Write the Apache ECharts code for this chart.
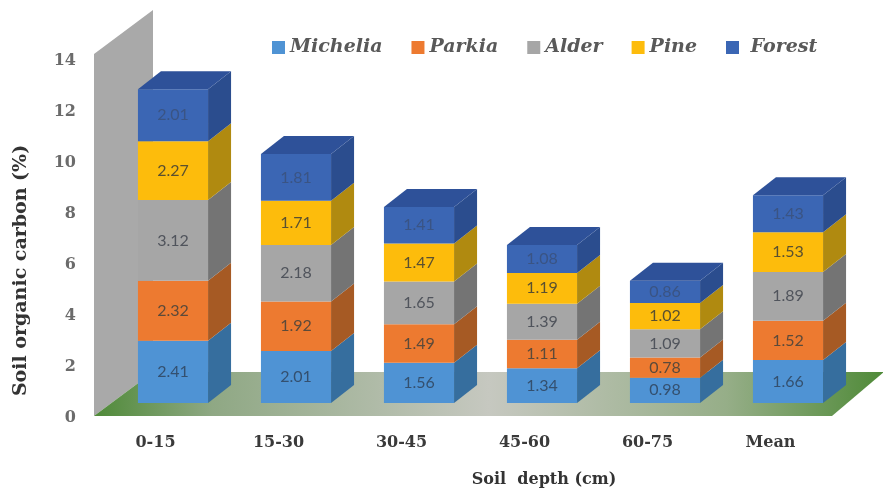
<!DOCTYPE html>
<html>
<head>
<meta charset="utf-8">
<style>
html, body { margin: 0; background: #fff; }
#main { width: 883px; height: 489px; filter: blur(0.5px); }
</style>
<script src="https://cdn.jsdelivr.net/npm/echarts@6/dist/echarts.min.js"></script>
</head>
<body>
<div id="main"></div>
<script>
var depths = ['0-15', '15-30', '30-45', '45-60', '60-75', 'Mean'];
var michelia = [2.41, 2.01, 1.56, 1.34, 0.98, 1.66];
var parkia = [2.32, 1.92, 1.49, 1.11, 0.78, 1.52];
var alder = [3.12, 2.18, 1.65, 1.39, 1.09, 1.89];
var pine = [2.27, 1.71, 1.47, 1.19, 1.02, 1.53];
var forest = [2.01, 1.81, 1.41, 1.08, 0.86, 1.43];
var names = ['Michelia', 'Parkia', 'Alder', 'Pine', 'Forest'];
var values = [michelia, parkia, alder, pine, forest];

var frontColors = ['#4f93d4', '#ed7a30', '#a6a6a6', '#fdbc0c', '#3b66b4'];
var sideColors = ['#366e9e', '#a65a24', '#747474', '#b08a10', '#2b4d8e'];
var topColor = '#2e5199';
var textColors = ['#34506f', '#5c4a3a', '#50545c', '#5a5030', '#3a5484'];

var serif = '"DejaVu Serif", serif';
var myChart = echarts.init(document.getElementById('main'));

// pixel offsets of the fake 3d box
var wallDx = 59, wallDy = -44, floorRightDx = 52;
var barDx = 17.5, barDy = -13, sideDx = 23, sideDy = -18, barRatio = 0.57;

function renderRoom(params, api) {
    var band = api.size([1, 0])[0];
    var p0 = api.coord([0, 0]);
    var p14 = api.coord([0, 14]);
    var pEnd = api.coord([depths.length - 1, 0]);
    var x0 = p0[0] - band / 2;
    var x1 = pEnd[0] + band / 2;
    var y0 = p0[1];
    var y14 = p14[1];
    return {
        type: 'group',
        silent: true,
        children: [{
            type: 'polygon',
            shape: { points: [[x0, y0], [x0, y14], [x0 + wallDx, y14 + wallDy], [x0 + wallDx, y0 + wallDy]] },
            style: { fill: '#a9a9a9' }
        }, {
            type: 'polygon',
            shape: { points: [[x0, y0], [x1, y0], [x1 + floorRightDx, y0 + wallDy], [x0 + wallDx, y0 + wallDy]] },
            style: {
                fill: new echarts.graphic.LinearGradient(0, 0, 1, 0, [
                    { offset: 0, color: '#4f8a38' },
                    { offset: 0.15, color: '#8fa884' },
                    { offset: 0.5, color: '#c6c8c0' },
                    { offset: 0.8, color: '#96ae88' },
                    { offset: 1, color: '#4f8a38' }
                ])
            }
        }]
    };
}

function renderBar(params, api) {
    var s = params.seriesIndex - 1;
    var cat = api.value(0);
    var band = api.size([1, 0])[0];
    var w = band * barRatio;
    var low = api.coord([cat, api.value(1)]);
    var high = api.coord([cat, api.value(2)]);
    var left = low[0] - w / 2 + barDx;
    var right = left + w;
    var yLow = low[1] + barDy;
    var yHigh = high[1] + barDy;
    var children = [{
        type: 'polygon',
        shape: { points: [[left, yLow], [right, yLow], [right, yHigh], [left, yHigh]] },
        style: { fill: api.visual('color') }
    }, {
        type: 'polygon',
        shape: { points: [[right, yLow], [right + sideDx, yLow + sideDy], [right + sideDx, yHigh + sideDy], [right, yHigh]] },
        style: { fill: sideColors[s] }
    }];
    if (s == names.length - 1) {
        children.push({
            type: 'polygon',
            shape: { points: [[left, yHigh], [right, yHigh], [right + sideDx, yHigh + sideDy], [left + sideDx, yHigh + sideDy]] },
            style: { fill: topColor }
        });
    }
    children.push({
        type: 'text',
        style: {
            text: api.value(3).toFixed(2),
            x: left + w / 2,
            y: (yLow + yHigh) / 2,
            align: 'center',
            verticalAlign: 'middle',
            fill: textColors[s],
            font: '16px Lato, sans-serif'
        }
    });
    return { type: 'group', silent: true, children: children };
}

var series = [{
    type: 'custom',
    name: 'room',
    xAxisIndex: 1,
    yAxisIndex: 1,
    renderItem: renderRoom,
    data: [[0, 0]],
    clip: false
}];

names.forEach(function (name, s) {
    var rows = depths.map(function (d, i) {
        var base = 0;
        for (var k = 0; k < s; k++) {
            base += values[k][i];
        }
        return [i, base, base + values[s][i], values[s][i]];
    });
    series.push({
        type: 'custom',
        name: name,
        xAxisIndex: 1,
        yAxisIndex: 1,
        renderItem: renderBar,
        encode: { x: 0, y: [1, 2] },
        itemStyle: { color: frontColors[s] },
        data: rows,
        clip: false
    });
});

myChart.setOption({
    animation: false,
    legend: {
        data: names,
        left: 267,
        top: 33,
        icon: 'rect',
        itemWidth: 13,
        itemHeight: 13,
        itemGap: 29,
        itemStyle: { borderWidth: 0 },
        formatter: function (name) {
            return name == 'Forest' ? ' ' + name : name;
        },
        textStyle: {
            fontFamily: serif,
            fontWeight: 'bold',
            fontStyle: 'italic',
            fontSize: 19,
            color: '#595959'
        }
    },
    grid: [
        { left: 94, right: 51, top: 61, bottom: 71, outerBoundsMode: 'none' },
        { left: 94, right: 51, top: 54, bottom: 73, outerBoundsMode: 'none' }
    ],
    xAxis: [{
        gridIndex: 0,
        type: 'category',
        data: depths,
        show: false
    }, {
        gridIndex: 1,
        type: 'category',
        data: depths,
        axisLine: { show: false },
        axisTick: { show: false },
        axisLabel: {
            margin: 19,
            fontFamily: serif,
            fontWeight: 'bold',
            fontSize: 16,
            color: '#3a3a3a'
        },
        name: 'Soil  depth (cm)',
        nameLocation: 'middle',
        nameGap: 56,
        nameTextStyle: {
            fontFamily: serif,
            fontWeight: 'bold',
            fontSize: 16,
            color: '#333333',
            padding: [0, 0, 0, 162]
        }
    }],
    yAxis: [{
        gridIndex: 0,
        type: 'value',
        min: 0,
        max: 14,
        interval: 2,
        axisLine: { show: false },
        axisTick: { show: false },
        splitLine: { show: false },
        axisLabel: {
            margin: 18,
            fontFamily: serif,
            fontWeight: 'bold',
            fontSize: 16,
            color: '#6b6b6b'
        },
        name: 'Soil organic carbon (%)',
        nameLocation: 'middle',
        nameGap: 63,
        nameTextStyle: {
            fontFamily: serif,
            fontWeight: 'bold',
            fontSize: 19,
            color: '#333333',
            padding: [0, 62, 0, 0]
        }
    }, {
        gridIndex: 1,
        type: 'value',
        min: 0,
        max: 14,
        interval: 2,
        show: false
    }],
    series: series
});
</script>
</body>
</html>
